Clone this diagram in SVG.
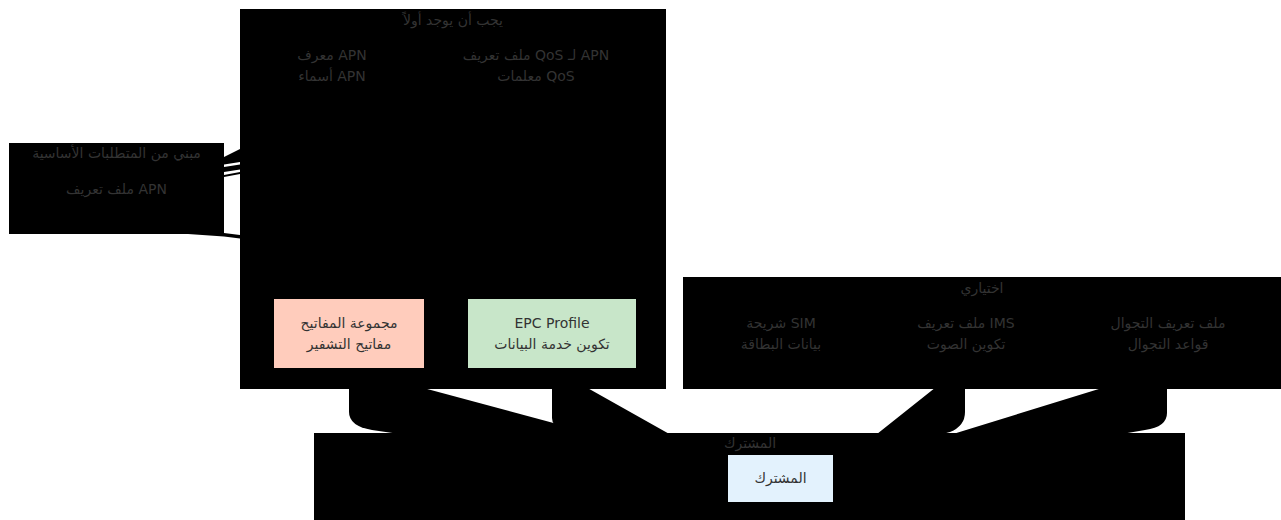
<svg xmlns="http://www.w3.org/2000/svg" width="1281" height="520" viewBox="0 0 1281 520">
  <style>
    .cluster { fill: #000000; }
    .hidden { fill: #000000; }
    .edge { fill: #000000; stroke: none; }
    text { font-family: "DejaVu Sans", "Noto Sans", sans-serif; font-size: 14px; fill: #333333; text-anchor: middle; dominant-baseline: central; }
    .rtl { direction: rtl; unicode-bidi: embed; }
  </style>

  <!-- clusters -->
  <g id="cluster-base">
    <rect class="cluster" x="9" y="143" width="215" height="91"/>
    <text class="rtl" x="116.5" y="153">مبني من المتطلبات الأساسية</text>
  </g>
  <g id="cluster-required">
    <rect class="cluster" x="240" y="9" width="426" height="380"/>
    <text class="rtl" x="453" y="20">يجب أن يوجد أولاً</text>
  </g>
  <g id="cluster-optional">
    <rect class="cluster" x="683" y="277" width="598" height="112"/>
    <text class="rtl" x="982" y="288">اختياري</text>
  </g>
  <g id="cluster-subscriber">
    <rect class="cluster" x="314" y="433" width="871" height="90"/>
    <text class="rtl" x="750" y="443">المشترك</text>
  </g>

  <!-- connectors -->
  <g id="connectors">
    <path class="edge" d="M224,157 L240,149 L240,162 L224,164.5 Z"/>
    <path class="edge" d="M224,167 L240,164.5 L240,169.5 L224,172 Z"/>
    <path class="edge" d="M224,175 L240,172 L240,174 L224,177 Z"/>
    <path class="edge" d="M188,234 L224,233 L240,235 L240,238.5 L224,236.5 Z"/>
    <path class="edge" d="M349,368 L349,412 Q349,426 372,430 L420,437 L728,470 Z"/>
    <path class="edge" d="M552,368 L552,418 Q552,426 562,428 L600,440 L728,467 Z"/>
    <path class="edge" d="M965,364 L965,412 Q965,426 950,432 L920,440 L833,469 Z"/>
    <path class="edge" d="M1167,368 L1167,413 Q1167,427 1145,430 L1110,436 L833,471 Z"/>
  </g>

  <!-- nodes -->
  <g id="node-apn-profile">
    <rect class="hidden" x="40" y="175" width="153" height="30"/>
    <text class="rtl" x="116.5" y="189">APN ملف تعريف</text>
  </g>
  <g id="node-apn-id">
    <rect class="hidden" x="282" y="40" width="100" height="50"/>
    <text class="rtl" x="332" y="55">APN معرف</text>
    <text class="rtl" x="332" y="76">APN أسماء</text>
  </g>
  <g id="node-qos">
    <rect class="hidden" x="455" y="40" width="162" height="50"/>
    <text class="rtl" x="536" y="55">APN لـ QoS ملف تعريف</text>
    <text class="rtl" x="536" y="76">QoS معلمات</text>
  </g>
  <g id="node-keys">
    <rect x="274" y="299" width="150" height="69" fill="#FFCCBC"/>
    <text class="rtl" x="349" y="323">مجموعة المفاتيح</text>
    <text class="rtl" x="349" y="344">مفاتيح التشفير</text>
  </g>
  <g id="node-epc">
    <rect x="468" y="299" width="168" height="69" fill="#C8E6C9"/>
    <text x="552" y="323">EPC Profile</text>
    <text class="rtl" x="552" y="344">تكوين خدمة البيانات</text>
  </g>
  <g id="node-sim">
    <text class="rtl" x="781" y="323">SIM شريحة</text>
    <text class="rtl" x="781" y="344">بيانات البطاقة</text>
  </g>
  <g id="node-ims">
    <text class="rtl" x="966" y="323">IMS ملف تعريف</text>
    <text class="rtl" x="966" y="344">تكوين الصوت</text>
  </g>
  <g id="node-roaming">
    <text class="rtl" x="1168" y="323">ملف تعريف التجوال</text>
    <text class="rtl" x="1168" y="344">قواعد التجوال</text>
  </g>
  <g id="node-subscriber">
    <rect x="728" y="455" width="105" height="47" fill="#E3F2FD"/>
    <text class="rtl" x="780.5" y="478">المشترك</text>
  </g>
</svg>
